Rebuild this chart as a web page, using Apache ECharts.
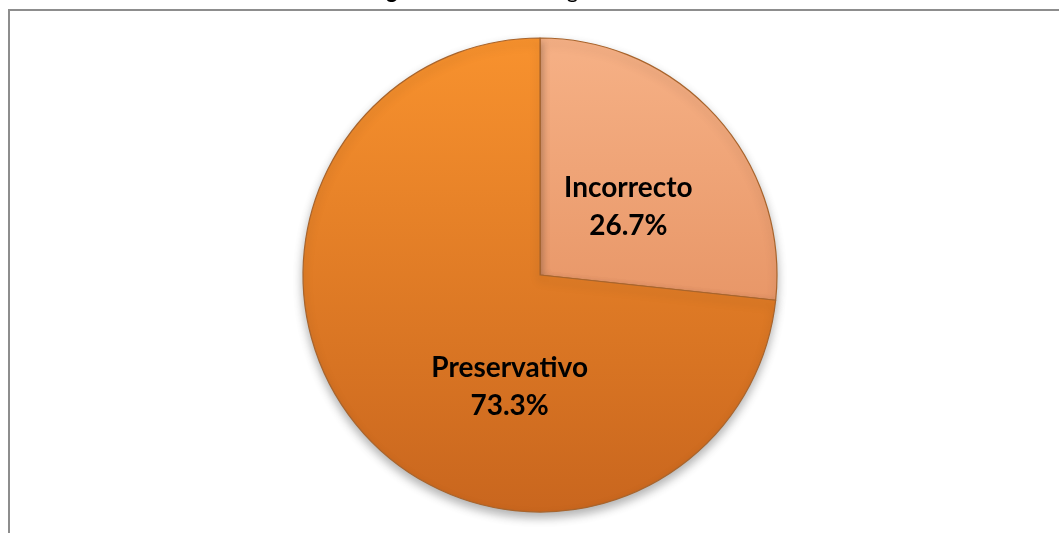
<!DOCTYPE html>
<html>
<head>
<meta charset="utf-8">
<script src="https://cdn.jsdelivr.net/npm/echarts@6/dist/echarts.min.js"></script>
<style>
  html, body { margin: 0; padding: 0; background: #fff; }
  #chart { width: 1059px; height: 533px; }
</style>
</head>
<body>
<div id="chart"></div>
<script>
// datos del gráfico
const categories = ["Incorrecto", "Preservativo"];
const percents = [26.7, 73.3];

const sliceColors = [
  ["#f6b186", "#e89768"],
  ["#f8922e", "#c9661e"],
];

const chart = echarts.init(document.getElementById("chart"));

const pieData = categories.map((name, i) => ({
  name: name,
  value: percents[i],
  itemStyle: {
    color: new echarts.graphic.LinearGradient(0, 0, 0, 1, [
      { offset: 0, color: sliceColors[i][0] },
      { offset: 1, color: sliceColors[i][1] },
    ]),
  },
}));

const options = {
  animation: false,
  backgroundColor: "#fff",
  graphic: [
    {
      // marco
      type: "rect",
      shape: { x: 9, y: 10, width: 1200, height: 700 },
      style: { fill: "none", stroke: "#8d8d8d", lineWidth: 2 },
      silent: true,
    },
    {
      // título (cortado arriba)
      type: "text",
      left: 368,
      top: -20,
      style: {
        text: "{b|Figura 9.} {r|Método elegido}",
        rich: {
          b: { fontFamily: "Lato", fontWeight: "bold", fontSize: 22, fill: "#000" },
          r: { fontFamily: "Lato", fontSize: 22, fill: "#000" },
        },
      },
    },
  ],
  series: [
    {
      type: "pie",
      center: [540, 275],
      radius: 237,
      startAngle: 90,
      clockwise: true,
      data: pieData,
      itemStyle: {
        borderColor: "#a8642c",
        borderWidth: 1.2,
        shadowBlur: 10,
        shadowOffsetY: 5,
        shadowColor: "rgba(0,0,0,0.3)",
      },
      label: {
        show: true,
        position: "inside",
        formatter: (p) => p.name + "\n" + p.value.toFixed(1) + "%",
        fontFamily: "Lato",
        fontWeight: "bold",
        fontSize: 28,
        lineHeight: 38,
        color: "#000",
      },
      labelLayout: (params) => {
        if (params.dataIndex === 1) {
          return { dx: 60, dy: 31 };
        }
        return { dx: -2, dy: 13 };
      },
      labelLine: { show: false },
      emphasis: { disabled: true },
    },
  ],
};

chart.setOption(options);
window.addEventListener("resize", () => chart.resize());
</script>
</body>
</html>
